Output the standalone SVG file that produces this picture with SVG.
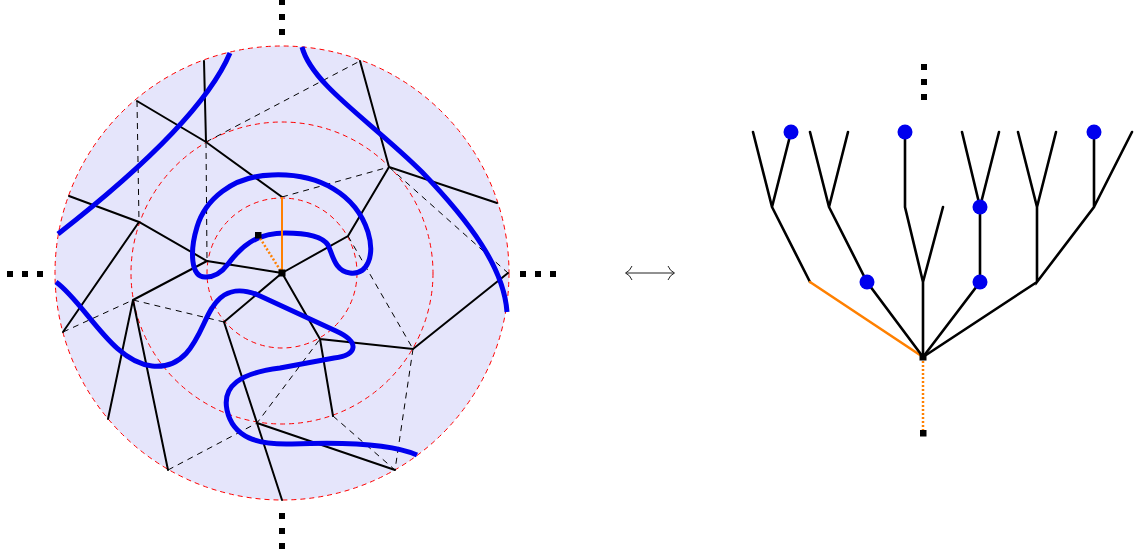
<svg xmlns="http://www.w3.org/2000/svg" width="1136" height="556" viewBox="0 0 1136 556">
<style>
.sol{stroke:#000;stroke-width:2;fill:none;stroke-linecap:round}
.das{stroke:#000;stroke-width:1;fill:none;stroke-dasharray:6 5}
.red{stroke:#f00;stroke-width:1;fill:none;stroke-dasharray:5 4}
.blue{stroke:#0000ee;stroke-width:5;fill:none;stroke-linecap:butt}
.tree{stroke:#000;stroke-width:2.6;fill:none;stroke-linecap:round}
.dot{fill:#0000ee}
.sq{fill:#000}
.orn{stroke:#ff8000;stroke-width:2;fill:none}
.orntree{stroke:#ff8000;stroke-width:2.6;fill:none;stroke-linecap:round}
.orndot{stroke:#ff8000;stroke-width:2.5;fill:none;stroke-dasharray:2 2}
</style>
<g id="disk">
<circle cx="282" cy="273" r="227" fill="#e5e5fb"/>
<circle cx="282" cy="273" r="227" class="red"/>
<circle cx="282" cy="273" r="151" class="red"/>
<circle cx="282" cy="273" r="75" class="red"/>
</g>
<g id="dashed-edges">
<path class="das" d="M137,101 L139,222 M206,142 L207,261 M206,142 L360,61 M282,197 L389,167 M389,167 L508,273 M348,236 L413,349 M63,332 L133,300 L224,322 M168,470 L257,423 L320,339 M333,416 L395,470 M413,349 L395,470"/>
</g>
<g id="solid-edges">
<path class="sol" d="M204,61 L206,142 M137,101 L206,142 L282,197 M69,196 L139,222 L207,261 L282,273 M139,222 L63,332 M207,261 L133,300 M133,300 L108,419 M133,300 L168,470 M224,322 L282,273 M224,322 L257,423 L282,500 M257,423 L395,470 M282,273 L320,339 L413,349 L508,273 M320,339 L333,416 M360,61 L389,167 L497,203 M389,167 L348,236 L282,273"/>
</g>
<g id="blue-curves">
<path class="blue" d="M230,53 C208,105 140,170 58,234"/>
<path class="blue" d="M302,47 C312,85 372,122 422,172 C470,222 504,268 507,312"/>
<path class="blue" d="M56,282 C85,303 112,362 152,366 C192,370 200,326 212,308 C222,292 236,286 258,295 L336,331 C360,342 358,355 334,358 L280,368 C240,373 222,386 227,410 C233,438 258,445 292,444 C340,442 390,443 417,455"/>
<path class="blue" d="M206,277 C190,278 190,250 197,227 C205,200 232,176 272,175 C320,173 356,195 368,232 C375,255 368,275 350,273 C335,271 333,256 328,245 C322,236 305,233 285,233 C255,233 240,248 228,264 C222,272 214,277 206,277 Z"/>
</g>
<g id="center-marks">
<line class="orn" x1="282" y1="273" x2="282" y2="197"/>
<line class="orndot" x1="258" y1="235" x2="282" y2="273"/>
<rect class="sq" x="278.5" y="269.5" width="7" height="7"/>
<rect class="sq" x="255" y="232" width="6.5" height="6.5"/>
</g>
<g id="ellipses">
<rect class="sq" x="279" y="-1" width="6" height="6"/>
<rect class="sq" x="279" y="14" width="6" height="6"/>
<rect class="sq" x="279" y="29" width="6" height="6"/>
<rect class="sq" x="279" y="513" width="6" height="6"/>
<rect class="sq" x="279" y="528" width="6" height="6"/>
<rect class="sq" x="279" y="543" width="6" height="6"/>
<rect class="sq" x="7" y="271" width="6" height="6"/>
<rect class="sq" x="22" y="271" width="6" height="6"/>
<rect class="sq" x="37" y="271" width="6" height="6"/>
<rect class="sq" x="520" y="271" width="6" height="6"/>
<rect class="sq" x="535" y="271" width="6" height="6"/>
<rect class="sq" x="550" y="271" width="6" height="6"/>
<rect class="sq" x="921" y="64" width="6" height="6"/>
<rect class="sq" x="921" y="79" width="6" height="6"/>
<rect class="sq" x="921" y="94" width="6" height="6"/>
</g>
<g id="connectors">
<path d="M626,273 H674" stroke="#222" stroke-width="1" fill="none"/>
<path d="M632,266 Q630,271 625.5,273 Q630,275 632,280" stroke="#222" stroke-width="1" fill="none"/>
<path d="M668,266 Q670,271 674.5,273 Q670,275 668,280" stroke="#222" stroke-width="1" fill="none"/>
</g>
<g id="tree">
<path class="tree" d="M753,132 L772,207 L791,132 M772,207 L810,282"/>
<path class="orntree" d="M810,282 L923,357"/>
<path class="tree" d="M810,132 L829,207 L848,132 M829,207 L867,282 L923,357"/>
<path class="tree" d="M905,132 L905,207 L923,282 L943,207 M923,282 L923,357"/>
<path class="tree" d="M962,132 L980,207 L999,132 M980,207 L980,282 L923,357"/>
<path class="tree" d="M1018,132 L1037,207 L1056,132 M1037,207 L1037,282 L1094,207 L1094,132 M1094,207 L1132,132 M1037,282 L923,357"/>
<line class="orndot" x1="923" y1="357" x2="923" y2="433"/>
<rect class="sq" x="919.5" y="353.5" width="7" height="7"/>
<rect class="sq" x="920" y="430" width="6.5" height="6.5"/>
</g>
<g id="tree-dots">
<circle class="dot" cx="791" cy="132" r="7.5"/>
<circle class="dot" cx="905" cy="132" r="7.5"/>
<circle class="dot" cx="1094" cy="132" r="7.5"/>
<circle class="dot" cx="980" cy="207" r="7.5"/>
<circle class="dot" cx="867" cy="282" r="7.5"/>
<circle class="dot" cx="980" cy="282" r="7.5"/>
</g>
</svg>
